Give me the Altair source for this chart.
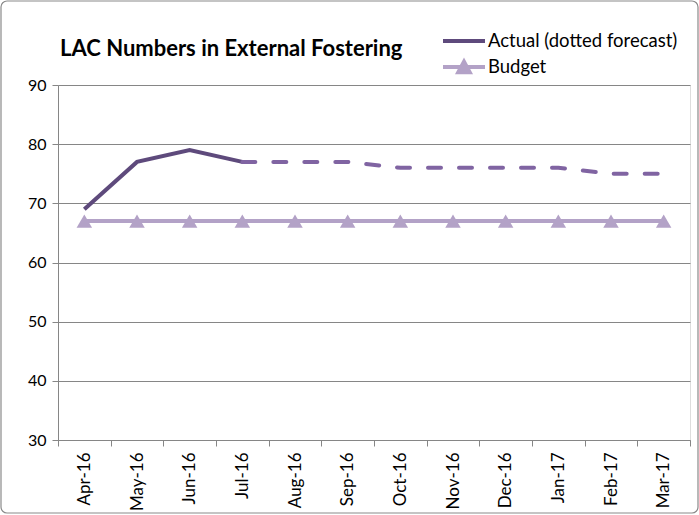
import altair as alt
import pandas as pd

# Monthly categories, April 2016 to March 2017
months = ["Apr-16", "May-16", "Jun-16", "Jul-16", "Aug-16", "Sep-16",
          "Oct-16", "Nov-16", "Dec-16", "Jan-17", "Feb-17", "Mar-17"]

# Actual placements (Apr–Jul) and forecast continuing from Jul
actual_months = ["Apr-16", "May-16", "Jun-16", "Jul-16"]
actual_values = [69, 77, 79, 77]
forecast_months = ["Jul-16", "Aug-16", "Sep-16", "Oct-16", "Nov-16",
                   "Dec-16", "Jan-17", "Feb-17", "Mar-17"]
forecast_values = [77, 77, 77, 76, 76, 76, 76, 75, 75]

# Budgeted level
budget_values = [67, 67, 67, 67, 67, 67, 67, 67, 67, 67, 67, 67]

ACTUAL_NAME = "Actual (dotted forecast)"
BUDGET_NAME = "Budget"

actual_df = pd.DataFrame({"month": actual_months, "value": actual_values,
                          "series": ACTUAL_NAME})
forecast_df = pd.DataFrame({"month": forecast_months, "value": forecast_values,
                            "series": ACTUAL_NAME})
budget_df = pd.DataFrame({"month": months, "value": budget_values,
                          "series": BUDGET_NAME})

FONT = "Lato"
GRID = "#868686"
C_ACTUAL = "#5E4A7C"
C_FORECAST = "#8064A2"
C_BUDGET = "#B3A2C7"

PLOT_W, PLOT_H = 632, 355

x_enc = alt.X(
    "month:N",
    sort=months,
    scale=alt.Scale(type="band", domain=months, paddingInner=0, paddingOuter=0),
    bandPosition=0.5,
    axis=alt.Axis(
        title=None, labelAngle=-90, labelFontSize=17, labelFont=FONT,
        labelColor="#000000", labelPadding=6, tickBand="extent", tickSize=6,
        tickColor=GRID, domainColor=GRID, grid=False,
    ),
)
y_enc = alt.Y(
    "value:Q",
    scale=alt.Scale(domain=[30, 90], nice=False, zero=False),
    axis=alt.Axis(
        title=None, values=[30, 40, 50, 60, 70, 80, 90], labelFontSize=16,
        labelFont=FONT, labelColor="#000000", labelPadding=6, tickSize=6,
        tickColor=GRID, domainColor=GRID, gridColor=GRID, grid=True,
    ),
)

actual_legend = alt.Legend(
    title=None, orient="none", legendX=383, legendY=-67, padding=0,
    symbolType="stroke", symbolStrokeWidth=4, symbolSize=1764,
    labelFont=FONT, labelFontSize=18.5, labelColor="#000000", labelOffset=1,
    labelLimit=0,
)
budget_legend = alt.Legend(
    title=None, orient="none", legendX=383, legendY=-41, padding=0,
    symbolType="M-1,0H1M-0.27,0.25L0,-0.25L0.27,0.25Z",
    symbolStrokeWidth=4, symbolSize=1764,
    symbolFillColor=C_BUDGET, symbolStrokeColor=C_BUDGET,
    labelFont=FONT, labelFontSize=18.5, labelColor="#000000", labelOffset=1,
    labelLimit=0,
)

actual_line = alt.Chart(actual_df).mark_line(strokeWidth=4).encode(
    x=x_enc, y=y_enc,
    color=alt.Color("series:N", scale=alt.Scale(domain=[ACTUAL_NAME], range=[C_ACTUAL]),
                    legend=actual_legend),
)

forecast_line = alt.Chart(forecast_df).mark_line(
    strokeWidth=4, strokeDash=[13, 18], strokeCap="round", color=C_FORECAST
).encode(x=x_enc, y=y_enc)

budget_line = alt.Chart(budget_df).mark_line(strokeWidth=4).encode(
    x=x_enc, y=y_enc,
    color=alt.Color("series:N", scale=alt.Scale(domain=[BUDGET_NAME], range=[C_BUDGET]),
                    legend=budget_legend),
)

budget_points = alt.Chart(budget_df).mark_point(
    shape="triangle-up", filled=True, size=240, color=C_BUDGET, opacity=1
).encode(x=x_enc, y=y_enc)

# Rounded frame around the whole chart
frame = alt.Chart(alt.Data(values=[{}])).mark_rect(
    fill=None, stroke="#8a8a8a", strokeWidth=1.2, cornerRadius=6
).encode(
    x=alt.value(-57), x2=alt.value(PLOT_W + 8),
    y=alt.value(-84), y2=alt.value(PLOT_H + 73),
)

chart = alt.layer(
    frame, budget_line, budget_points, actual_line, forecast_line
).resolve_scale(color="independent").resolve_legend(color="independent").properties(
    width=PLOT_W,
    height=PLOT_H,
    autosize="none",
    padding={"left": 58, "top": 85, "right": 9, "bottom": 75},
    title=alt.TitleParams(
        "LAC Numbers in External Fostering", anchor="start", frame="group",
        font=FONT, fontSize=22, fontWeight="bold", color="#000000",
        offset=0, dx=2, dy=61,
    ),
).configure_view(stroke=None).configure(background="white")

chart.save("out.html", embed_options={"renderer": "svg", "actions": False})
